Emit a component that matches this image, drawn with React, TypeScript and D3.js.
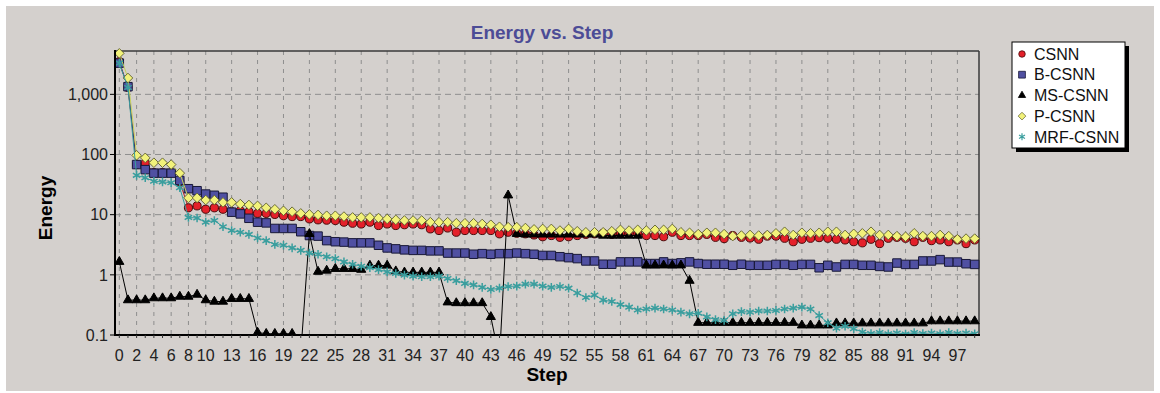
import React from "react";
import * as d3 from "d3";

// x categories: steps 0..99
const steps = d3.range(100);
const xTickLabels = [0, 2, 4, 6, 8, 10, 13, 16, 19, 22, 25, 28, 31, 34, 37, 40, 43, 46, 49, 52, 55, 58, 61, 64, 67, 70, 73, 76, 79, 82, 85, 88, 91, 94, 97];
const yTicks = [0.1, 1, 10, 100, 1000];

const csnn = [
  3500, 1300, 68, 72, 50, 50, 50, 35, 13, 14,
  12.3, 13, 12.3, 11.2, 11.6, 11.2, 10.5, 10.5, 10.1, 9.6,
  9.3, 9.3, 8.5, 8.2, 8.1, 8.0, 7.5, 7.2, 7.0, 7.5,
  6.6, 7.0, 6.6, 6.8, 7.0, 6.8, 5.8, 5.45, 6.0, 5.1,
  5.45, 5.45, 5.45, 5.45, 4.8, 5.1, 4.9, 4.8, 4.6, 4.3,
  4.5, 4.2, 4.3, 4.5, 4.7, 4.8, 4.9, 4.7, 4.8, 4.9,
  4.8, 4.5, 4.5, 4.3, 5.1, 4.5, 4.5, 4.5, 4.7, 4.2,
  4.0, 4.5, 4.2, 4.1, 3.9, 4.4, 4.4, 4.05, 3.55, 3.9,
  4.05, 4.15, 4.05, 3.9, 3.8, 3.55, 3.4, 3.9, 3.3, 4.05,
  4.2, 4.05, 3.55, 4.2, 3.7, 3.8, 3.55, 3.8, 3.3, 3.8,
];
const bCsnn = [
  3300, 1340, 68, 56, 49, 49, 49, 37, 27, 25,
  22, 21, 19.5, 11, 10.3, 8.7, 7.5, 7.3, 5.9, 5.9,
  5.9, 5.2, 4.5, 4.4, 3.7, 3.55, 3.5, 3.4, 3.4, 3.4,
  3.1, 2.8, 2.7, 2.6, 2.55, 2.55, 2.5, 2.5, 2.3, 2.3,
  2.3, 2.2, 2.25, 2.2, 2.25, 2.25, 2.3, 2.25, 2.2, 2.1,
  2.1, 2.0, 1.93, 1.86, 1.7, 1.7, 1.5, 1.5, 1.64, 1.64,
  1.64, 1.54, 1.54, 1.64, 1.54, 1.58, 1.64, 1.54, 1.5, 1.5,
  1.5, 1.44, 1.5, 1.44, 1.44, 1.44, 1.49, 1.49, 1.44, 1.49,
  1.49, 1.31, 1.44, 1.35, 1.49, 1.49, 1.44, 1.44, 1.38, 1.35,
  1.57, 1.49, 1.49, 1.7, 1.7, 1.79, 1.63, 1.63, 1.53, 1.49,
];
const msCsnn = [
  1.65, 0.38, 0.38, 0.38, 0.41, 0.41, 0.41, 0.435, 0.435, 0.47,
  0.38, 0.36, 0.36, 0.4, 0.4, 0.4, 0.11, 0.105, 0.105, 0.105,
  0.105, 0.05, 4.8, 1.13, 1.18, 1.26, 1.26, 1.26, 1.22, 1.43,
  1.43, 1.43, 1.15, 1.1, 1.1, 1.1, 1.1, 1.1, 0.35, 0.34,
  0.34, 0.34, 0.34, 0.2, 0.04, 21, 4.8, 4.7, 4.7, 4.7,
  4.7, 4.7, 4.7, 4.7, 4.7, 4.7, 4.5, 4.5, 4.5, 4.5,
  4.5, 1.44, 1.44, 1.44, 1.44, 1.44, 0.8, 0.16, 0.16, 0.16,
  0.16, 0.16, 0.16, 0.16, 0.16, 0.16, 0.16, 0.16, 0.16, 0.145,
  0.145, 0.145, 0.145, 0.157, 0.157, 0.157, 0.157, 0.157, 0.157, 0.157,
  0.157, 0.157, 0.157, 0.157, 0.17, 0.17, 0.17, 0.17, 0.17, 0.17,
];
const pCsnn = [
  4800, 1870, 97, 88, 73, 73, 68, 49, 19, 19,
  17.5, 17.5, 16, 16, 15, 14.5, 14, 13, 12.3, 11.6,
  11.2, 10.5, 10.1, 9.9, 9.6, 9.6, 9.3, 9.0, 9.0, 9.0,
  8.8, 8.5, 8.2, 8.0, 8.0, 8.0, 7.5, 7.5, 7.5, 7.2,
  7.2, 7.2, 7.0, 6.8, 6.3, 6.2, 6.2, 6.0, 5.7, 5.8,
  5.8, 5.45, 5.8, 5.3, 5.1, 5.1, 5.1, 5.3, 5.6, 5.45,
  5.6, 5.45, 5.6, 5.6, 5.8, 5.1, 5.0, 4.75, 5.0, 5.0,
  4.75, 4.4, 4.5, 4.6, 4.5, 4.6, 4.9, 5.2, 4.6, 5.0,
  4.9, 5.0, 5.2, 5.2, 4.6, 4.8, 4.9, 5.2, 4.6, 4.6,
  4.4, 4.3, 4.9, 4.4, 4.4, 4.6, 4.4, 3.9, 4.0, 4.0,
];
const mrfCsnn = [
  3300, 1300, 45, 41, 36, 35, 34, 28, 9, 8.8,
  7.5, 8, 6.3, 5.45, 5.1, 4.7, 4.1, 3.7, 3.2, 3.1,
  2.8, 2.55, 2.3, 2.2, 2.0, 1.86, 1.64, 1.5, 1.39, 1.32,
  1.22, 1.12, 1.05, 0.99, 0.95, 0.93, 0.93, 0.95, 0.87, 0.8,
  0.72, 0.68, 0.62, 0.57, 0.6, 0.64, 0.65, 0.7, 0.7, 0.65,
  0.62, 0.64, 0.6, 0.5, 0.42, 0.46, 0.38, 0.36, 0.32, 0.29,
  0.26, 0.27, 0.28, 0.27, 0.26, 0.24, 0.225, 0.23, 0.2, 0.18,
  0.175, 0.225, 0.245, 0.24, 0.25, 0.25, 0.256, 0.27, 0.28, 0.29,
  0.27, 0.21, 0.16, 0.13, 0.14, 0.127, 0.112, 0.106, 0.11, 0.105,
  0.108, 0.104, 0.11, 0.106, 0.108, 0.105, 0.11, 0.106, 0.108, 0.105,
];

const diamond = "M0,-4.8L4.8,0L0,4.8L-4.8,0Z";
const asterisk = d3.symbol().type(d3.symbolAsterisk).size(52)() || "";

const series = [
  { name: "CSNN", values: csnn, line: "#b01c22", path: d3.symbol().type(d3.symbolCircle).size(52)() || "", fill: "#e4202a", stroke: "#4a0a0a", sw: 1 },
  { name: "B-CSNN", values: bCsnn, line: "#2a2a66", path: d3.symbol().type(d3.symbolSquare).size(72)() || "", fill: "#5050a2", stroke: "#181838", sw: 1 },
  { name: "MS-CSNN", values: msCsnn, line: "#000", path: d3.symbol().type(d3.symbolTriangle).size(36)() || "", fill: "#000", stroke: "#000", sw: 1 },
  { name: "P-CSNN", values: pCsnn, line: "#c6d25a", path: diamond, fill: "#f2f27a", stroke: "#5e5e30", sw: 0.9 },
  { name: "MRF-CSNN", values: mrfCsnn, line: "#3a9e9e", path: asterisk, fill: "none", stroke: "#3a9e9e", sw: 1.5 },
];

const PL = 115, PR = 979, PT = 51, PB = 335;

export default function App() {
  const x = d3.scalePoint<number>().domain(steps).range([PL, PR]).padding(0.5);
  const y = d3.scaleLog().domain([0.1, 5250]).range([PB, PT]);
  const fmt = d3.format(",");
  const lineGen = d3
    .line<number>()
    .x((_, i) => x(steps[i]) as number)
    .y((d) => y(d));

  return (
    <svg
      width={1160}
      height={393}
      style={{ position: "absolute", left: 0, top: 0 }}
      fontFamily="'Liberation Sans', Arial, sans-serif"
    >
      <rect width={1160} height={393} fill="#fff" />
      <rect x={6} y={6} width={1148} height={385} fill="#d4d0cd" />
      <defs>
        <clipPath id="plotClip">
          <rect x={PL - 6} y={PT - 6} width={PR - PL + 12} height={PB - PT + 6} />
        </clipPath>
      </defs>

      {/* title */}
      <text x={542} y={39} textAnchor="middle" fontSize={19} fontWeight="bold" fill="#4c4c96">
        Energy vs. Step
      </text>

      {/* grid */}
      {xTickLabels.map((t) => (
        <line key={"vx" + t} x1={x(t)} x2={x(t)} y1={PT} y2={PB} stroke="#8e8e8e" strokeDasharray="4,5" />
      ))}
      {yTicks.slice(1).map((t) => (
        <line key={"hy" + t} x1={PL} x2={PR} y1={y(t)} y2={y(t)} stroke="#8e8e8e" strokeDasharray="6,4" />
      ))}

      {/* frame */}
      <line x1={PL} x2={PR} y1={PT} y2={PT} stroke="#3a3a3a" strokeWidth={1.5} />
      <line x1={PR} x2={PR} y1={PT} y2={PB} stroke="#3a3a3a" strokeWidth={1.5} />

      {/* series */}
      <g clipPath="url(#plotClip)">
        {series.map((s) => (
          <g key={s.name}>
            <path d={lineGen(s.values) || ""} fill="none" stroke={s.line} strokeWidth={1} />
            {s.values.map((v, i) => (
              <path
                key={i}
                d={s.path}
                transform={`translate(${x(steps[i])},${y(v)})`}
                fill={s.fill}
                stroke={s.stroke}
                strokeWidth={s.sw}
              />
            ))}
          </g>
        ))}
      </g>

      {/* axes */}
      <line x1={PL} x2={PL} y1={PT - 1} y2={PB + 1} stroke="#000" strokeWidth={2} />
      <line x1={PL - 1} x2={PR + 1} y1={PB} y2={PB} stroke="#000" strokeWidth={2} />
      {steps.map((s) => (
        <line key={"mt" + s} x1={x(s)} x2={x(s)} y1={PB} y2={PB + 3} stroke="#333" strokeWidth={1} />
      ))}
      {yTicks.map((t) => (
        <g key={"yt" + t}>
          <line x1={PL - 5} x2={PL} y1={y(t)} y2={y(t)} stroke="#000" />
          <text x={PL - 7} y={y(t)} dy="0.36em" textAnchor="end" fontSize={16} fill="#222">
            {fmt(t)}
          </text>
        </g>
      ))}
      {xTickLabels.map((t) => (
        <text key={"xl" + t} x={x(t)} y={361} textAnchor="middle" fontSize={16} fill="#222">
          {t}
        </text>
      ))}

      <text x={547} y={381} textAnchor="middle" fontSize={19} fontWeight="bold" fill="#000">
        Step
      </text>
      <text
        transform="translate(45,208) rotate(-90)"
        textAnchor="middle"
        dy="0.36em"
        fontSize={19}
        fontWeight="bold"
        fill="#000"
      >
        Energy
      </text>

      {/* legend */}
      <rect x={1016} y={46} width={113} height={106} fill="#000" />
      <rect x={1012} y={42} width={113} height={106} fill="#fff" stroke="#000" strokeWidth={1} />
      {series.map((s, i) => (
        <g key={"lg" + s.name} transform={`translate(1022,${54 + i * 20.7})`}>
          <path d={s.path} transform="scale(0.8)" fill={s.fill} stroke={s.stroke} strokeWidth={s.sw} />
          <text x={12} dy="0.36em" fontSize={16} fill="#111">
            {s.name}
          </text>
        </g>
      ))}
    </svg>
  );
}
